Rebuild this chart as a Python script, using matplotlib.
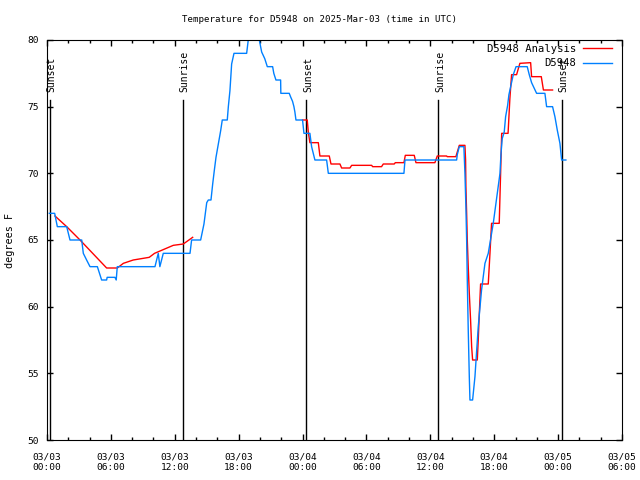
import matplotlib
matplotlib.use('Agg')
import matplotlib.pyplot as plt
import numpy as np
from matplotlib.ticker import MultipleLocator, FixedLocator
import matplotlib.transforms as mtransforms

# hours since 2025-03-03 00:00 UTC
obs_hours = [0.22, 0.72, 0.97, 1.85, 2.16, 3.26, 3.41, 3.72, 4.04, 4.73, 5.13, 5.6, 5.65,
             6.38, 6.5, 6.6, 10.14, 10.45, 10.6, 10.92, 13.43, 13.58, 14.43, 14.74, 15.0,
             15.15, 15.4, 15.56, 15.71, 15.87, 16.09, 16.31, 16.46, 16.93, 17.03, 17.18,
             17.34, 17.56, 18.75, 18.9, 19.1, 19.6, 19.94, 20.16, 20.45, 20.69, 21.19,
             21.3, 21.5, 21.94, 21.96, 22.75, 22.87, 23.06, 23.19, 23.28, 23.38, 24.0,
             24.13, 24.69, 24.85, 25.16, 26.26, 26.42, 33.52, 33.62, 38.47, 38.53, 38.72,
             39.15, 39.25, 39.34, 39.41, 39.47, 39.56, 39.66, 39.72, 39.97, 40.19, 40.5,
             40.81, 41.13, 41.44, 41.91, 42.54, 42.63, 42.75, 42.94, 43.07, 43.26, 43.38,
             43.57, 43.79, 44.05, 45.1, 45.29, 45.51, 45.98, 46.76, 46.92, 47.48, 47.7,
             47.92, 48.17, 48.33, 48.73]
obs_temp = [67, 67, 66, 66, 65, 65, 64, 63.5, 63, 63, 62, 62, 62.2,
            62.2, 62, 63, 63, 64, 63, 64, 64, 65, 65, 66.2, 67.8,
            68, 68, 69.2, 70.2, 71.2, 72.2, 73.2, 74, 74, 75, 76.2,
            78.2, 79, 79, 80, 81, 81, 80, 79.1, 78.6, 78, 78,
            77.5, 77, 77, 76, 76, 75.75, 75.4, 75, 74.6, 74, 74,
            73, 73, 72, 71, 71, 70, 70, 71, 71, 71.4, 72,
            72, 70, 67.5, 65, 62, 58.25, 54.75, 53, 53, 54.75, 58.5,
            61.25, 63.25, 64, 66.25, 70, 71.4, 72.6, 73.1, 74.25, 75.1, 75.9,
            76.6, 77.4, 78, 78, 77.4, 76.8, 76, 76, 75, 75, 74.25,
            73.25, 72.25, 71, 71]

ana_hours = [0.75, 1.85, 3.1, 5.6, 6.6, 7.17, 8.1, 9.6, 10.1, 11.86, 12.8, 13.68, np.nan,
             24.0, 24.44, 24.54, 24.69, 25.48, 25.63, 26.51, 26.67, 27.51, 27.67, 28.45,
             28.61, 30.49, 30.58, 31.42, 31.58, 32.61, 32.71, 33.52, 33.65, 34.49, 34.65,
             36.43, 36.65, 37.53, 37.59, 38.4, 38.72, 39.25, 39.31, 39.34, 39.41, 39.47,
             39.56, 39.66, 39.78, 39.88, 39.97, 40.41, 40.5, 40.6, 40.72, 41.44, 41.6,
             41.75, 42.47, 42.6, 42.7, 43.3, 43.47, 43.63, 44.1, 44.41, 45.42, 45.51,
             46.42, 46.62, 47.48]
ana_temp = [66.8, 66.0, 65.0, 62.9, 62.9, 63.25, 63.5, 63.7, 64.0, 64.6, 64.7, 65.2, np.nan,
            74, 74, 73.1, 72.3, 72.3, 71.3, 71.3, 70.7, 70.7, 70.4, 70.4,
            70.6, 70.6, 70.5, 70.5, 70.7, 70.7, 70.8, 70.8, 71.35, 71.35, 70.8,
            70.8, 71.3, 71.3, 71.25, 71.25, 72.1, 72.1, 71, 69, 67, 65,
            63, 61, 59, 57, 56, 56, 57.5, 59.5, 61.7, 61.7, 64,
            66.25, 66.25, 70, 73, 73, 75.6, 77.4, 77.4, 78.25, 78.3, 77.25,
            77.25, 76.25, 76.25]

sunset_hours = [0.25, 24.3, 48.33]
sunrise_hours = [12.74, 36.74]

tick_hours = [0, 6, 12, 18, 24, 30, 36, 42, 48, 54]
tick_labels = ['03/03\n00:00', '03/03\n06:00', '03/03\n12:00', '03/03\n18:00',
               '03/04\n00:00', '03/04\n06:00', '03/04\n12:00', '03/04\n18:00',
               '03/05\n00:00', '03/05\n06:00']

plt.rcParams['font.family'] = 'DejaVu Sans Mono'
plt.rcParams['font.size'] = 6.8

fig = plt.figure(figsize=(6.4, 4.8), dpi=100)
ax = fig.add_axes([47/640, 40/480, 575/640, 400/480])

trans = mtransforms.blended_transform_factory(ax.transData, ax.transAxes)
for h in sunset_hours:
    ax.axvline(h, ymin=0, ymax=0.85, color='black', lw=1)
    ax.text(h + 0.2, 0.87, 'Sunset', rotation=90, ha='center', va='bottom',
            transform=trans, fontsize=7.0)
for h in sunrise_hours:
    ax.axvline(h, ymin=0, ymax=0.85, color='black', lw=1)
    ax.text(h + 0.2, 0.87, 'Sunrise', rotation=90, ha='center', va='bottom',
            transform=trans, fontsize=7.0)

ax.plot(ana_hours, ana_temp, color='#ff0000', lw=1, label='D5948 Analysis')
ax.plot(obs_hours, obs_temp, color='#0080ff', lw=1, label='D5948')

ax.set_xlim(0, 54)
ax.set_ylim(50, 80)
ax.xaxis.set_major_locator(FixedLocator(tick_hours))
ax.set_xticklabels(tick_labels)
ax.xaxis.set_minor_locator(MultipleLocator(2))
ax.yaxis.set_major_locator(MultipleLocator(5))
ax.tick_params(which='both', direction='in', top=True, right=True, width=1)
ax.tick_params(which='major', length=4)
ax.tick_params(which='minor', length=2.2)
ax.tick_params(axis='x', pad=9)
ax.tick_params(axis='y', pad=6)

leg = ax.legend(loc='upper right', bbox_to_anchor=(0.983, 0.99), markerfirst=False,
                frameon=False, handlelength=2.8, handletextpad=0.6, borderpad=0,
                borderaxespad=0, labelspacing=0.4, fontsize=7.6)

fig.text(0.5, 1 - 20/480, 'Temperature for D5948 on 2025-Mar-03 (time in UTC)',
         ha='center', va='center', fontsize=6.6)
fig.text(10/640, 0.5, 'degrees F', rotation=90, ha='center', va='center', fontsize=7.3)

fig.savefig('out.png', dpi=100)
